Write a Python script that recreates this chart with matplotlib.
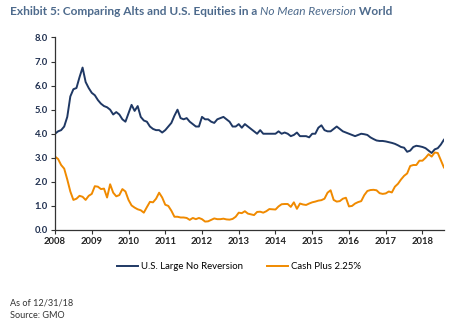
import numpy as np
import matplotlib
matplotlib.use("Agg")
import matplotlib.pyplot as plt

plt.rcParams['font.family'] = ['Lato', 'DejaVu Sans']

# monthly values, Jan 2008 .. Aug 2018
start_year = 2008
us_large = [
    4.0, 4.1, 4.15, 4.3, 4.7, 5.55, 5.85, 5.9, 6.35, 6.75, 6.15, 5.9,
    5.7, 5.6, 5.4, 5.25, 5.15, 5.1, 5.0, 4.8, 4.9, 4.8, 4.6, 4.5,
    4.85, 5.2, 4.95, 5.15, 4.7, 4.55, 4.5, 4.3, 4.2, 4.15, 4.15, 4.05,
    4.15, 4.3, 4.45, 4.75, 5.0, 4.65, 4.6, 4.65, 4.5, 4.4, 4.3, 4.3,
    4.7, 4.6, 4.6, 4.5, 4.45, 4.6, 4.65, 4.7, 4.6, 4.5, 4.3, 4.3,
    4.4, 4.25, 4.4, 4.3, 4.2, 4.1, 4.0, 4.15, 4.0, 4.0, 4.0, 4.0,
    4.0, 4.1, 4.0, 4.05, 4.0, 3.9, 3.95, 4.05, 3.9, 3.9, 3.9, 3.85,
    4.0, 4.0, 4.25, 4.35, 4.15, 4.1, 4.1, 4.2, 4.3, 4.2, 4.1, 4.05,
    4.0, 3.95, 3.9, 3.95, 4.0, 3.98, 3.95, 3.85, 3.78, 3.72, 3.7, 3.7,
    3.68, 3.65, 3.62, 3.58, 3.52, 3.45, 3.42, 3.25, 3.3, 3.45, 3.5, 3.48,
    3.45, 3.4, 3.3, 3.2, 3.35, 3.4, 3.55, 3.75,
]
cash_plus = [
    3.05, 2.95, 2.7, 2.55, 2.1, 1.6, 1.25, 1.3, 1.42, 1.38, 1.25, 1.42,
    1.5, 1.82, 1.8, 1.7, 1.72, 1.35, 1.9, 1.55, 1.4, 1.45, 1.7, 1.6,
    1.25, 1.02, 0.93, 0.86, 0.82, 0.72, 0.95, 1.17, 1.15, 1.3, 1.55, 1.35,
    1.05, 1.0, 0.8, 0.55, 0.55, 0.52, 0.52, 0.5, 0.42, 0.5, 0.45, 0.5,
    0.45, 0.35, 0.36, 0.42, 0.48, 0.45, 0.45, 0.47, 0.44, 0.43, 0.46, 0.55,
    0.72, 0.7, 0.78, 0.68, 0.65, 0.62, 0.75, 0.76, 0.72, 0.78, 0.87, 0.86,
    0.85, 0.98, 1.07, 1.08, 1.08, 0.96, 1.15, 0.88, 1.1, 1.06, 1.04, 1.1,
    1.15, 1.18, 1.22, 1.24, 1.3, 1.55, 1.65, 1.25, 1.18, 1.2, 1.3, 1.34,
    0.98, 1.0, 1.1, 1.16, 1.2, 1.45, 1.62, 1.66, 1.67, 1.65, 1.53, 1.5,
    1.52, 1.6, 1.56, 1.8, 1.92, 2.1, 2.25, 2.35, 2.66, 2.7, 2.7, 2.88,
    2.88, 3.0, 3.15, 3.05, 3.22, 3.2, 2.9, 2.6,
]
year_ticks = list(range(2008, 2019))
y_ticks = [0, 1, 2, 3, 4, 5, 6, 7, 8]

navy = '#1f3864'
orange = '#f08a00'

dates = start_year + np.arange(len(us_large)) / 12.0

fig = plt.figure(figsize=(4.6, 3.26), dpi=100)
ax = fig.add_axes([0.1196, 0.2945, 0.8454, 0.5905])

ax.plot(dates, us_large, color=navy, lw=1.4, label='U.S. Large No Reversion')
ax.plot(dates, cash_plus, color=orange, lw=1.4, label='Cash Plus 2.25%')

ax.set_xlim(2008, dates[-1])
ax.set_ylim(0, 8)
ax.set_xticks(year_ticks)
ax.set_xticklabels([str(y) for y in year_ticks], fontsize=6.8, fontweight='bold', color='#222222')
ax.set_yticks(y_ticks)
ax.set_yticklabels(['%.1f' % v for v in y_ticks], fontsize=6.8, fontweight='bold', color='#1f2f4f')
for side in ['top', 'right']:
    ax.spines[side].set_visible(False)
for side in ['left', 'bottom']:
    ax.spines[side].set_color('#333333')
    ax.spines[side].set_linewidth(0.9)
ax.tick_params(axis='both', direction='out', length=3, width=0.8, color='#333333', pad=2)

leg = fig.legend(loc='center', bbox_to_anchor=(0.52, 0.181), ncol=2, frameon=False,
                 fontsize=6.9, handlelength=2.2, handletextpad=0.3, columnspacing=2.5)

# title: bold text with an italic middle section
parts = [('Exhibit 5: Comparing Alts and U.S. Equities in a ', 'bold', 'normal'),
         ('No Mean Reversion', 'normal', 'italic'),
         (' World', 'bold', 'normal')]
renderer = fig.canvas.get_renderer()
x = 10 / 460
for txt, weight, style in parts:
    t = fig.text(x, 1 - 15 / 326, txt, fontsize=8.55, fontweight=weight, fontstyle=style,
                 color='#4d6a8c', va='baseline', ha='left')
    bb = t.get_window_extent(renderer)
    x += bb.width / fig.bbox.width

fig.text(10 / 460, 1 - 305 / 326, 'As of 12/31/18', fontsize=6.6, color='#333333', va='baseline')
fig.text(10 / 460, 1 - 318 / 326, 'Source: GMO', fontsize=6.6, color='#333333', va='baseline')

fig.savefig('out.png', dpi=100)
